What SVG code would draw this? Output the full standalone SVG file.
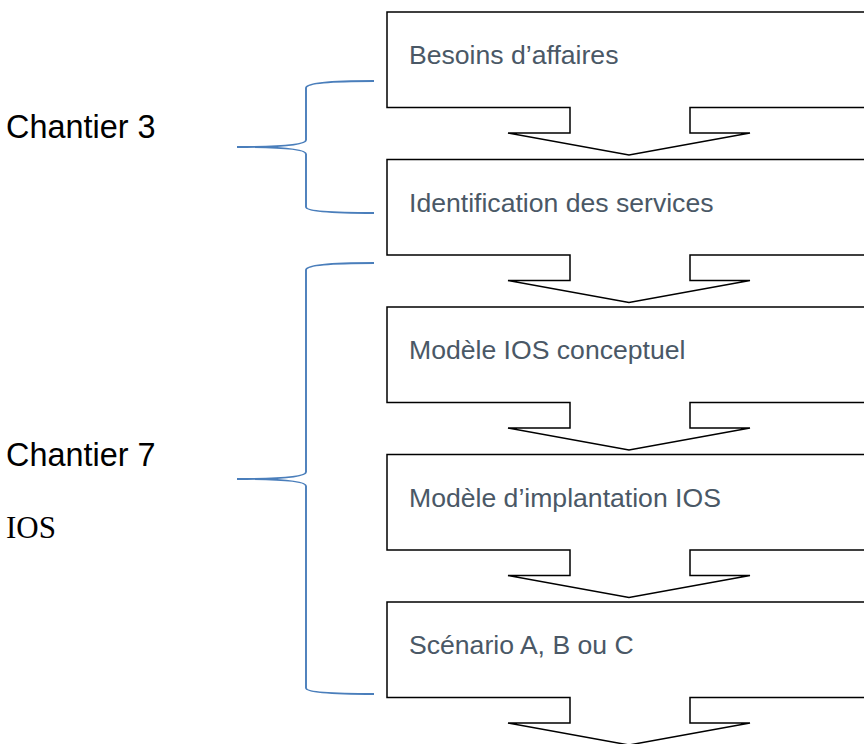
<svg xmlns="http://www.w3.org/2000/svg" width="864" height="744" viewBox="0 0 864 744">
<style>
.box{fill:#fff;stroke:#000;stroke-width:1.5;stroke-linejoin:miter}
.lbl{font-family:"Liberation Sans",Arial,sans-serif;font-size:26.6px;fill:#4A5866}
.ch{font-family:"Liberation Sans",Arial,sans-serif;font-size:32.4px;fill:#000}
.ios{font-family:"Liberation Serif","Times New Roman",serif;font-size:31px;fill:#000}
.brace{fill:none;stroke:#4A7EBB;stroke-width:1.9}
</style>
<rect width="864" height="744" fill="#fff"/>
<g id="n1">
<path class="box" d="M387 12H870V107.5H690V133H750L629 155L508 133H570V107.5H387Z"/>
<text class="lbl" x="409" y="64">Besoins d’affaires</text>
</g>
<g id="n2">
<path class="box" d="M387 159.5H870V255H690V280.5H750L629 302.5L508 280.5H570V255H387Z"/>
<text class="lbl" x="409" y="212">Identification des services</text>
</g>
<g id="n3">
<path class="box" d="M387 307H870V402.5H690V428H750L629 450L508 428H570V402.5H387Z"/>
<text class="lbl" x="409" y="359">Modèle IOS conceptuel</text>
</g>
<g id="n4">
<path class="box" d="M387 454.5H870V550H690V575.5H750L629 597.5L508 575.5H570V550H387Z"/>
<text class="lbl" x="409" y="507">Modèle d’implantation IOS</text>
</g>
<g id="n5">
<path class="box" d="M387 602H870V697.5H690V723H750L629 745L508 723H570V697.5H387Z"/>
<text class="lbl" x="409" y="654">Scénario A, B ou C</text>
</g>
<g id="brace1">
<path class="brace" d="M374 81C330 81 306 83 306 88V140C306 145 280 147 237 147C280 147 306 149 306 154V207C306 211 330 213 374 213"/>
<text class="ch" x="6" y="138">Chantier 3</text>
</g>
<g id="brace2">
<path class="brace" d="M374 263C330 263 306 265 306 270V472C306 477 280 479 237 479C280 479 306 481 306 486V688C306 692 330 694 374 694"/>
<text class="ch" x="6" y="466">Chantier 7</text>
<text class="ios" x="6" y="538">IOS</text>
</g>
</svg>
